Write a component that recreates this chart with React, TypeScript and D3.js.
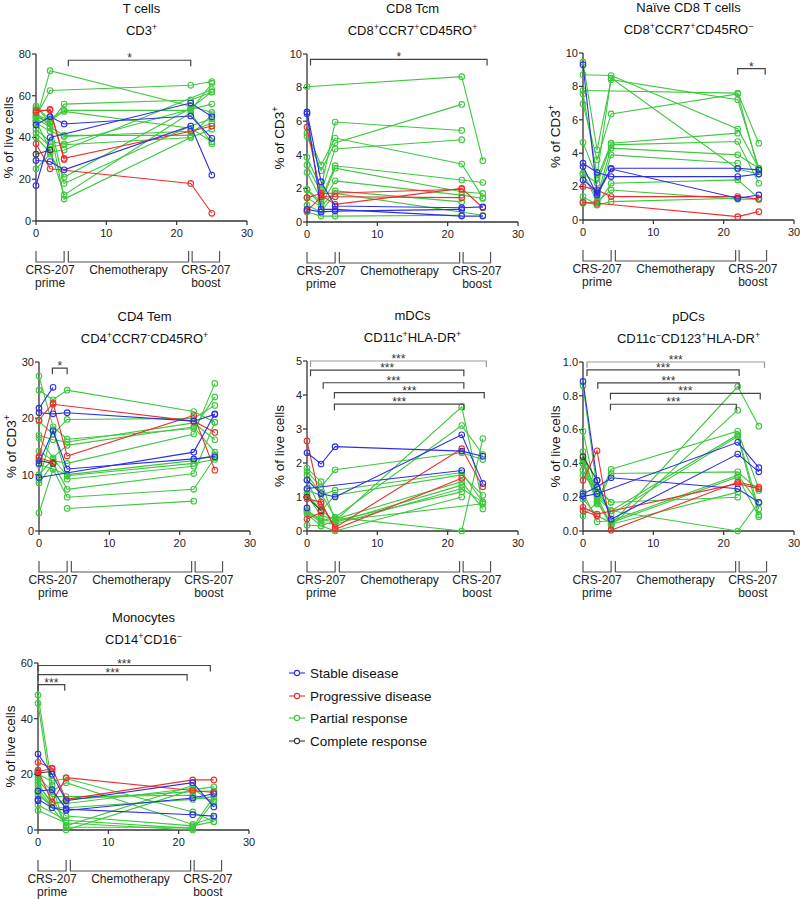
import React from "react";
import * as d3 from "d3";

// ---------- data ----------
const TIMES = [0, 2, 4, 22, 25];

const GROUP_KEYS = ["S", "P", "R", "C"];
const GROUP_LABELS = ["Stable disease", "Progressive disease", "Partial response", "Complete response"];
const GROUP_COLORS = ["#2e2ee8", "#ee2e2e", "#3ec83e", "#3a3a3a"];

type Row = (string | number | null)[];

// [group, t0, t2, t4, t22, t25]
const tcellRows: Row[] = [
  ["R", 55, 47, 56, 58, 61.7],
  ["R", 50, 62.5, null, 65, 66.8],
  ["R", 48, 72, null, 55, 52],
  ["R", 54, 49, 53, 53, 66],
  ["R", 51, 48, 52.5, 44.4, 38],
  ["R", 49, 45, 41, 41, 51],
  ["R", 47, 43, 40.5, 43, 47],
  ["R", 44, 38, 37, 53.5, 56],
  ["R", 42, 35.6, 36.5, 40, 44],
  ["R", 40, 33, 34, null, 63],
  ["R", 25, 32, 21, 54, 62],
  ["R", 48, 34, 12.5, 52, 37],
  ["R", 52, 45, 10.5, 40, null],
  ["R", 50, 47, 18, 45.5, 49],
  ["S", 46, 50, 46.5, 50.3, 39.6],
  ["S", 17, 40, null, 56.5, 50],
  ["S", 29, 28.5, 24.5, 45.5, 22],
  ["P", 52, 53.5, 30, 43, 45.5],
  ["P", 53, 53, 29.5, null, null],
  ["P", 37, 25, null, 18, 3.7],
  ["C", 32, 34, null, null, null],
];

const tcmRows: Row[] = [
  ["R", 8.05, null, null, 8.65, 3.65],
  ["R", 5.3, 3.4, 5.0, 3.45, 1.45],
  ["R", 5.1, 3.05, 4.7, 7.0, null],
  ["R", 3.85, 2.0, 5.95, 5.45, null],
  ["R", 3.4, 1.75, 4.35, 4.9, null],
  ["R", 2.95, 1.35, 3.35, 2.5, 2.35],
  ["R", 1.95, 1.2, 3.2, 1.8, 1.7],
  ["R", 1.9, 1.05, 2.45, 1.6, 1.4],
  ["R", 1.45, 0.9, 1.85, 1.2, null],
  ["R", 1.0, 0.6, 1.7, null, 0.4],
  ["R", 0.6, 0.35, 0.35, 0.4, null],
  ["S", 6.55, 2.4, 0.95, 0.85, 0.9],
  ["S", 6.45, 0.75, 0.75, 0.35, 0.35],
  ["S", 0.75, 0.6, 0.65, 0.75, null],
  ["P", 5.65, 1.6, 1.05, 2.0, 0.85],
  ["P", 0.65, 1.5, 1.5, 1.45, null],
  ["P", 1.45, 1.7, null, 1.95, null],
];

const naiveRows: Row[] = [
  ["R", 8.7, null, 8.65, 5.45, 3.1],
  ["R", 7.75, null, null, 7.6, 4.6],
  ["R", 7.55, 2.7, 8.5, 3.05, 2.75],
  ["R", 6.95, 3.6, 6.35, 7.55, 2.9],
  ["R", 9.45, 4.2, 8.4, 7.2, 3.1],
  ["R", 4.65, 2.5, 4.6, 5.2, null],
  ["R", 2.8, 2.2, 4.5, 4.7, 2.2],
  ["R", 2.7, 1.4, 4.3, 3.9, 3.1],
  ["R", 2.8, 1.1, 3.9, 3.4, null],
  ["R", 1.4, 0.9, 2.2, 2.4, 1.3],
  ["R", 1.0, 1.1, 1.8, 1.25, 1.25],
  ["R", 1.1, 0.9, 1.1, 1.3, null],
  ["S", 9.3, 1.6, 3.1, 3.1, 3.0],
  ["S", 3.4, 2.85, 2.6, 2.6, 2.75],
  ["S", 3.2, 1.5, 3.05, 1.3, 1.5],
  ["S", 2.4, 1.7, null, null, null],
  ["P", 2.0, 1.8, 1.4, 1.4, 1.25],
  ["P", 1.05, 1.0, null, 0.2, 0.5],
];

const cd4Rows: Row[] = [
  ["R", 27.5, 18.5, 16.3, 18.2, 23.8],
  ["R", 25.0, 23.3, 25.0, 21.2, 19.3],
  ["R", 19.5, 17.2, 19.8, 20.0, 22.3],
  ["R", 17.0, 16.2, 15.8, 19.2, 16.2],
  ["R", 16.5, 13.0, 15.2, 18.5, 14.0],
  ["R", 14.2, 12.5, 12.0, 17.2, 26.2],
  ["R", 11.8, 11.0, 10.0, 12.5, 13.5],
  ["R", 10.0, 12.8, 9.8, 12.0, 12.7],
  ["R", 9.0, 18.0, 9.2, 11.5, null],
  ["R", 8.5, 12.0, 7.4, 10.2, 19.3],
  ["R", 3.2, 11.0, 6.0, 7.4, 13.0],
  ["R", null, null, 4.0, 5.3, null],
  ["S", 21.8, 25.5, null, null, null],
  ["S", 21.0, 20.8, 21.0, 19.5, 20.7],
  ["S", 12.0, 17.8, 11.0, 12.8, 13.2],
  ["S", 9.5, null, null, 14.0, 20.8],
  ["P", 19.7, 22.7, 13.3, 20.5, 10.8],
  ["P", 13.2, 22.5, null, 19.5, 17.5],
  ["P", 13.0, 12.2, null, null, null],
  ["C", 12.5, 12.0, null, null, null],
];

const mdcRows: Row[] = [
  ["R", 1.85, 1.45, 0.3, 3.65, 0.8],
  ["R", 1.75, 1.3, 1.8, 2.3, 2.1],
  ["R", 1.65, 1.1, 0.4, 3.1, 2.25],
  ["R", 1.2, 1.05, 1.2, 1.72, 0.85],
  ["R", 1.1, 0.6, 1.05, 1.65, 1.05],
  ["R", 1.05, 0.45, 0.35, 1.45, 0.65],
  ["R", 0.6, 0.35, 0.25, 1.35, null],
  ["R", 0.55, 0.25, 0.2, 1.25, 0.85],
  ["R", 0.5, 0.15, 0.3, 1.15, null],
  ["R", 0.17, 0.15, 0.0, 1.0, null],
  ["R", 0.6, 0.3, 0.4, 0.0, 2.72],
  ["R", 1.5, 0.6, 0.3, null, 0.8],
  ["S", 2.3, 1.97, 2.48, 2.35, 2.2],
  ["S", 1.5, 1.1, 1.0, 2.83, 1.4],
  ["S", 1.25, null, null, 1.78, null],
  ["S", 0.68, null, null, null, null],
  ["P", 2.65, 0.8, 0.1, 2.42, 1.3],
  ["P", 0.95, 0.85, 0.05, 1.55, null],
  ["P", 0.35, 0.55, null, null, null],
  ["C", 1.0, 0.6, null, null, null],
];

const pdcRows: Row[] = [
  ["R", 0.86, 0.25, 0.17, null, null],
  ["R", 0.59, 0.2, 0.04, 0.855, 0.62],
  ["R", 0.47, 0.18, 0.03, 0.715, null],
  ["R", 0.42, 0.17, 0.365, 0.59, 0.25],
  ["R", 0.4, 0.16, 0.34, 0.35, 0.24],
  ["R", 0.36, 0.2, 0.12, 0.57, 0.13],
  ["R", 0.33, 0.25, 0.1, 0.56, 0.095],
  ["R", 0.23, 0.055, 0.06, 0.33, 0.165],
  ["R", 0.19, 0.09, 0.05, 0.32, 0.085],
  ["R", 0.09, 0.17, 0.04, 0.23, null],
  ["R", 0.4, 0.25, 0.17, 0.2, null],
  ["R", 0.42, 0.22, 0.12, 0.0, 0.17],
  ["S", 0.885, 0.3, 0.07, 0.455, 0.35],
  ["S", 0.22, 0.26, 0.315, 0.25, 0.17],
  ["S", 0.205, 0.22, null, 0.525, 0.375],
  ["P", 0.3, 0.475, 0.005, 0.29, 0.26],
  ["P", 0.14, 0.1, null, 0.28, 0.25],
  ["P", 0.12, 0.09, null, null, null],
  ["C", 0.44, 0.3, null, null, null],
];

const monoRows: Row[] = [
  ["R", 48.5, 16, 0, 14.5, 15.5],
  ["R", 45.5, 12, 1.0, 1.0, 12],
  ["R", 20, 17.5, 18.5, 6.5, 3],
  ["R", 19, 14, 17, 2, 4.5],
  ["R", 18, 12, 12, 12.5, 10.5],
  ["R", 17, 9, 11, 13.8, 14],
  ["R", 16, 10, 9.5, 15, 9.5],
  ["R", 13.5, 8, 8, 11, 12],
  ["R", 12.5, null, 5, 1.5, 3],
  ["R", 9, null, 3.5, 0.5, null],
  ["R", 7, null, 2.5, 0, 10.5],
  ["R", 15, null, 1.5, 16, null],
  ["S", 27.3, 20, 10.5, 17, 8.3],
  ["S", 14, 14.5, 7.5, 5.5, 5],
  ["S", 11, 8, 7, 11.5, 13],
  ["S", 10.5, null, null, null, null],
  ["P", 24.3, 22.2, 11, 18, 18],
  ["P", 21.5, 10, 18.8, 14.2, 13.5],
  ["P", 21, 22, null, null, null],
  ["C", 20.5, 21, null, null, null],
];

// significance brackets: [x1, x2, y, label]
const tcellSig: Row[] = [[4.6, 22, 77, "*"]];
const tcmSig: Row[] = [[0.5, 25.6, 9.68, "*"]];
const naiveSig: Row[] = [[22, 25.9, 9.06, "*"]];
const cd4Sig: Row[] = [[1.9, 4.0, 28.9, "*"]];
const mdcSig: Row[] = [
  [0.5, 25.5, 5.0, "***"],
  [0.5, 22.3, 4.73, "***"],
  [2.3, 22.3, 4.36, "***"],
  [3.9, 25.2, 4.07, "***"],
  [3.9, 22.3, 3.73, "***"],
];
const pdcSig: Row[] = [
  [0.57, 25.8, 1.0, "***"],
  [0.57, 22.2, 0.953, "***"],
  [2.1, 22.2, 0.877, "***"],
  [3.9, 25.2, 0.814, "***"],
  [3.9, 21.8, 0.75, "***"],
];
const monoSig: Row[] = [
  [0, 24.5, 59.1, "***"],
  [0, 21.2, 55.8, "***"],
  [0, 3.8, 52.2, "***"],
];

const X_TICKS = [0, 10, 20, 30];
const PHASE_X1 = [0, 4.6, 22.2];
const PHASE_X2 = [4, 21.7, 26.1];
const PHASE_LABELS = [["CRS-207", "prime"], ["Chemotherapy"], ["CRS-207", "boost"]];

// ---------- layout ----------
const FONT = "'Liberation Sans', Arial, Helvetica, sans-serif";
const PLOT_W = 211;

const PANELS = [
  { t: ["T cells", "CD3{+}"], yl: "% of live cells", rows: tcellRows, sig: tcellSig, yMax: 80, yTicks: [0, 20, 40, 60, 80], fmt: (d: number) => String(d), left: 36, top: 54, bottom: 221 },
  { t: ["CD8 Tcm", "CD8{+}CCR7{+}CD45RO{+}"], yl: "% of CD3{+}", rows: tcmRows, sig: tcmSig, yMax: 10, yTicks: [0, 2, 4, 6, 8, 10], fmt: (d: number) => String(d), left: 307, top: 54, bottom: 222 },
  { t: ["Naïve CD8 T cells", "CD8{+}CCR7{+}CD45RO{−}"], yl: "% of CD3{+}", rows: naiveRows, sig: naiveSig, yMax: 10, yTicks: [0, 2, 4, 6, 8, 10], fmt: (d: number) => String(d), left: 583, top: 53, bottom: 220 },
  { t: ["CD4 Tem", "CD4{+}CCR7{-}CD45RO{+}"], yl: "% of CD3{+}", rows: cd4Rows, sig: cd4Sig, yMax: 30, yTicks: [0, 10, 20, 30], fmt: (d: number) => String(d), left: 39, top: 362, bottom: 531 },
  { t: ["mDCs", "CD11c{+}HLA-DR{+}"], yl: "% of live cells", rows: mdcRows, sig: mdcSig, yMax: 5, yTicks: [0, 1, 2, 3, 4, 5], fmt: (d: number) => String(d), left: 307, top: 361, bottom: 531 },
  { t: ["pDCs", "CD11c{−}CD123{+}HLA-DR{+}"], yl: "% of live cells", rows: pdcRows, sig: pdcSig, yMax: 1, yTicks: [0, 0.2, 0.4, 0.6, 0.8, 1.0], fmt: (d: number) => d.toFixed(1), left: 583, top: 362, bottom: 531 },
  { t: ["Monocytes", "CD14{+}CD16{−}"], yl: "% of live cells", rows: monoRows, sig: monoSig, yMax: 60, yTicks: [0, 20, 40, 60], fmt: (d: number) => String(d), left: 38, top: 663, bottom: 830 },
];

function Rich({ text, size, ...rest }: any) {
  const parts = text.split(/(\{[^}]*\})/).filter((s: string) => s.length);
  let prevSup = false;
  const shift = size * 0.4;
  return (
    <text fontSize={size} {...rest}>
      {parts.map((p: string, i: number) => {
        const sup = p.startsWith("{");
        const content = sup ? p.slice(1, -1) : p;
        let dy = 0;
        if (sup && !prevSup) dy = -shift;
        if (!sup && prevSup) dy = shift;
        prevSup = sup;
        return (
          <tspan key={i} dy={dy} fontSize={sup ? size * 0.68 : size}>
            {content}
          </tspan>
        );
      })}
    </text>
  );
}

const AXIS = "#333";

function Panel({ cfg }: any) {
  const x = d3.scaleLinear().domain([0, 30]).range([cfg.left, cfg.left + PLOT_W]);
  const y = d3.scaleLinear().domain([0, cfg.yMax]).range([cfg.bottom, cfg.top]);
  const line = d3.line<[number, number]>().x((d) => x(d[0])).y((d) => y(d[1]));
  const cx = (cfg.left + cfg.left + PLOT_W) / 2;
  const order = ["R", "C", "P", "S"];
  const rows = [...cfg.rows].sort((a: Row, b: Row) => order.indexOf(a[0] as string) - order.indexOf(b[0] as string));
  const bTop = cfg.bottom + 30;
  const bBot = cfg.bottom + 41;
  return (
    <g fontFamily={FONT}>
      <Rich text={cfg.t[0]} size={13} x={cx} y={cfg.top - 41} textAnchor="middle" fill="#111" />
      <Rich text={cfg.t[1]} size={13} x={cx} y={cfg.top - 19} textAnchor="middle" fill="#111" />
      <Rich
        text={cfg.yl}
        size={13.5}
        x={0}
        y={0}
        textAnchor="middle"
        fill="#111"
        transform={`translate(${cfg.left - 23.5},${(cfg.top + cfg.bottom) / 2}) rotate(-90)`}
      />
      {/* axes */}
      <line x1={x(0)} x2={x(0)} y1={y(0)} y2={y(cfg.yMax)} stroke={AXIS} strokeWidth={1.3} />
      <line x1={x(0)} x2={x(30)} y1={y(0)} y2={y(0)} stroke={AXIS} strokeWidth={1.3} />
      {cfg.yTicks.map((t: number) => (
        <g key={"yt" + t}>
          <line x1={x(0) - 4} x2={x(0)} y1={y(t)} y2={y(t)} stroke={AXIS} strokeWidth={1.2} />
          <text x={x(0) - 5} y={y(t)} dy="0.35em" textAnchor="end" fontSize={11} fill="#222">
            {cfg.fmt(t)}
          </text>
        </g>
      ))}
      {X_TICKS.map((t) => (
        <g key={"xt" + t}>
          <line x1={x(t)} x2={x(t)} y1={y(0)} y2={y(0) + 4} stroke={AXIS} strokeWidth={1.2} />
          <text x={x(t)} y={y(0) + 16} textAnchor="middle" fontSize={11} fill="#222">
            {t}
          </text>
        </g>
      ))}
      {/* phase brackets */}
      {PHASE_X1.map((p, i) => (
        <g key={"ph" + i}>
          <path
            d={`M${x(p)},${bTop}V${bBot}H${x(PHASE_X2[i])}V${bTop}`}
            fill="none"
            stroke="#555"
            strokeWidth={1.2}
          />
          {PHASE_LABELS[i].map((l, j) => (
            <text
              key={j}
              x={x((p + PHASE_X2[i]) / 2)}
              y={bBot + 12 + j * 13}
              textAnchor="middle"
              fontSize={12}
              fill="#222"
            >
              {l}
            </text>
          ))}
        </g>
      ))}
      {/* data */}
      {rows.map((r: Row, i: number) => {
        const gi = GROUP_KEYS.indexOf(r[0] as string);
        const col = GROUP_COLORS[gi];
        const pts: [number, number][] = [];
        TIMES.forEach((t, k) => {
          const v = r[k + 1];
          if (v !== null && v !== undefined) pts.push([t, v as number]);
        });
        return (
          <g key={"r" + i}>
            <path d={line(pts) || ""} fill="none" stroke={col} strokeWidth={1.1} />
            {pts.map((p, k) => (
              <circle key={k} cx={x(p[0])} cy={y(p[1])} r={2.8} fill="none" stroke={col} strokeWidth={1.1} />
            ))}
          </g>
        );
      })}
      {/* significance */}
      {cfg.sig.map((s: Row, i: number) => {
        const x1 = x(s[0] as number);
        const x2 = x(s[1] as number);
        const yy = y(s[2] as number);
        const light = cfg.sig.length > 3 && i === 0;
        return (
          <g key={"s" + i}>
            <path d={`M${x1},${yy + 6}V${yy}H${x2}V${yy + 6}`} fill="none" stroke={light ? "#999" : "#444"} strokeWidth={1.2} />
            <text x={(x1 + x2) / 2} y={yy + 2} textAnchor="middle" fontSize={12} fill="#333">
              {s[3] as string}
            </text>
          </g>
        );
      })}
    </g>
  );
}

function Legend() {
  const ys = [673, 696, 718, 741];
  return (
    <g fontFamily={FONT}>
      {GROUP_LABELS.map((l, i) => (
        <g key={l}>
          <line x1={289} x2={305} y1={ys[i]} y2={ys[i]} stroke={GROUP_COLORS[i]} strokeWidth={1.1} />
          <circle cx={297} cy={ys[i]} r={2.6} fill="#fff" stroke={GROUP_COLORS[i]} strokeWidth={1.1} />
          <text x={310} y={ys[i]} dy="0.35em" fontSize={13.5} fill="#111">
            {l}
          </text>
        </g>
      ))}
    </g>
  );
}

export default function App() {
  return (
    <svg width={800} height={899} style={{ position: "absolute", left: 0, top: 0, background: "#fff" }}>
      <rect width={800} height={899} fill="#fff" />
      {PANELS.map((p, i) => (
        <Panel key={i} cfg={p} />
      ))}
      <Legend />
    </svg>
  );
}
